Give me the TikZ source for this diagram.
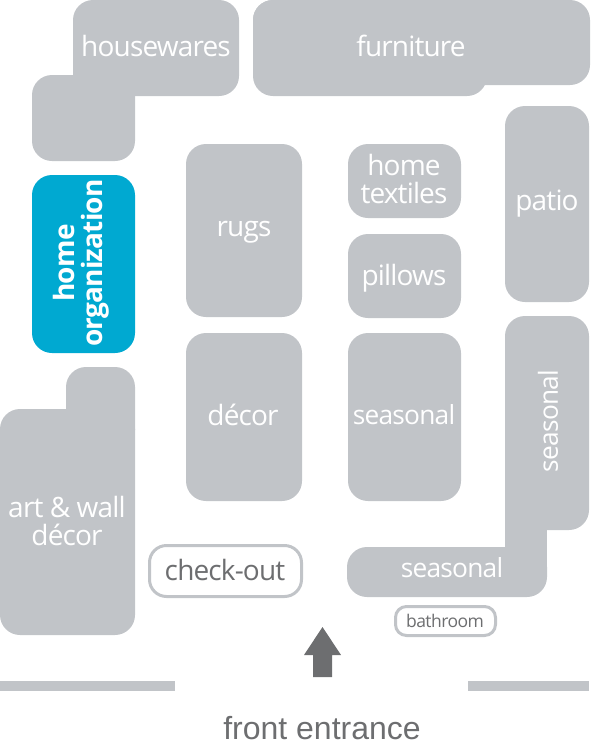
\documentclass[tikz,border=0pt]{standalone}
\usepackage{fontspec}
\setmainfont[LetterSpace=-3]{Open Sans}
\newfontfamily\entrancefont{Liberation Sans}
\definecolor{blockgray}{HTML}{C1C4C8}
\definecolor{activeblue}{HTML}{00A9D1}
\definecolor{signgray}{HTML}{6D6E70}
\tikzset{
  block/.style={fill=blockgray,rounded corners=20pt},
  blocktext/.style={text=white,align=center,inner sep=0pt,font=\fontsize{28}{28}\selectfont},
  seasontext/.style={blocktext,font=\fontsize{26.3}{28}\selectfont},
  service/.style={draw=blockgray,line width=3pt,fill=white},
  servicetext/.style={text=signgray,inner sep=0pt}
}
\begin{document}
\begin{tikzpicture}[x=1pt,y=-1pt]
  \useasboundingbox (0,0) rectangle (591,750);
  % top and left wall
  \path[block] (73,0) rectangle (239,96); \path[block] (32,75) rectangle (135,161);
  \path[block] (253,0) rectangle (487,96); \path[block] (253,0) rectangle (590,85);
  \path[block] (505,106) rectangle (589,302);
  \path[block] (0,409) rectangle (135,635); \path[block] (66,367) rectangle (135,450);
  % aisles
  \path[block] (186,144) rectangle (302,317);
  \path[block] (186,333) rectangle (302,501);
  \path[block] (348,144) rectangle (461,218);
  \path[block] (348,234) rectangle (461,318);
  \path[block] (348,333) rectangle (461,501);
  % seasonal corner
  \path[block] (505,316) rectangle (589,530);
  \path[block] (347,547) rectangle (547,597);
  \fill[blockgray] (505,500) rectangle (547,570);
  % highlighted block
  \path[block,fill=activeblue] (32,175) rectangle (135,353);
  % labels
  \node[blocktext] (housewares) at (156,46) {housewares};
  \node[blocktext] (furniture) at (411,46) {furniture};
  \node[blocktext] (patio) at (547,204) {patio};
  \node[blocktext] (rugs) at (244,232) {rugs};
  \node[blocktext] (decor) at (243,415) {décor};
  \node[blocktext] (textiles) at (404,179) {home\\textiles};
  \node[blocktext] (pillows) at (404,278) {pillows};
  \node[seasontext] (seasonalmid) at (404,415) {seasonal};
  \node[seasontext,rotate=90] (seasonalside) at (548,421) {seasonal};
  \node[seasontext] (seasonallow) at (452,568) {seasonal};
  \node[blocktext] (artwall) at (67,521) {art \& wall\\décor};
  \node[blocktext,rotate=90,font=\bfseries\fontsize{28}{28}\selectfont] (organization) at (81,263) {home\\organization};
  % service desks
  \draw[service,rounded corners=17pt] (149.5,545.5) rectangle (301.5,596.5);
  \node[servicetext,font=\fontsize{28}{28}\selectfont] (checkout) at (225,570) {check-out};
  \draw[service,rounded corners=11pt] (395.5,606.5) rectangle (495.5,635.5);
  \node[servicetext,font=\fontsize{17.5}{18}\selectfont] (bathroom) at (445,621) {bathroom};
  % entrance
  \fill[blockgray] (0,681) rectangle (175,691);
  \fill[blockgray] (468,681) rectangle (589,691);
  \fill[signgray] (322.5,627) -- (341,655) -- (332,655) -- (332,677) -- (313,677) -- (313,655) -- (304,655) -- cycle;
  \node[servicetext,font=\entrancefont\fontsize{32}{32}\selectfont] (entrance) at (322,728) {front entrance};
\end{tikzpicture}
\end{document}
